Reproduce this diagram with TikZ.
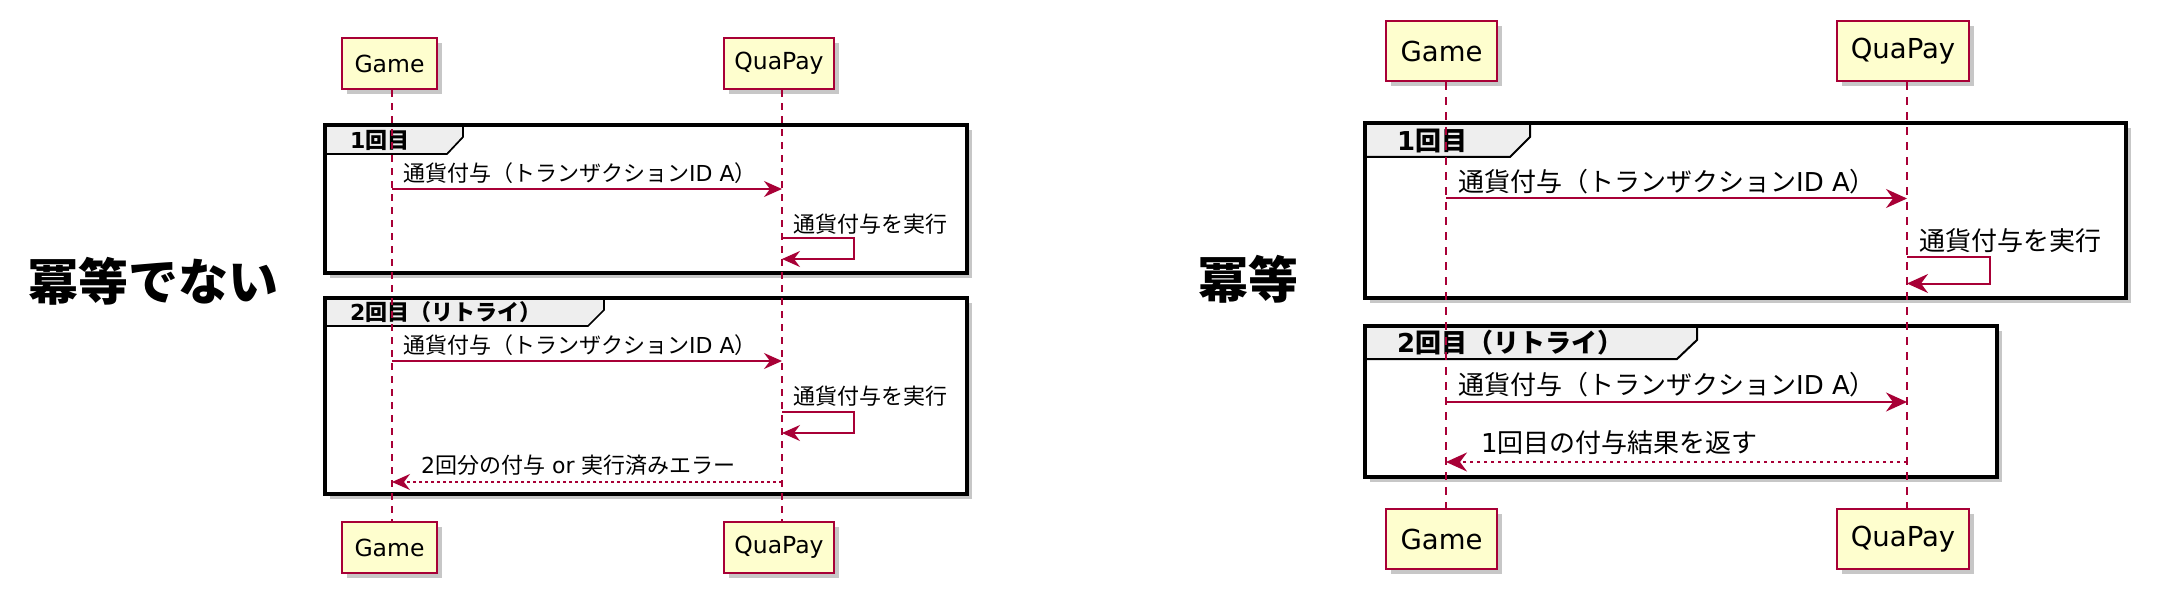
\documentclass[tikz,border=0pt]{standalone}
\usepackage{fontspec}
\setmainfont{Noto Sans CJK JP}
\newfontfamily\dv{DejaVu Sans}
\usetikzlibrary{arrows.meta,shadows}
\definecolor{pu}{HTML}{A80036}
\definecolor{pufill}{HTML}{FEFECE}
\definecolor{tabgray}{HTML}{EEEEEE}
\tikzset{
  shd/.style={drop shadow={shadow xshift=5pt, shadow yshift=-5pt, opacity=0.22, fill=black}},
  partL/.style={draw=pu, fill=pufill, line width=2.4pt, inner sep=0pt, shd,
    minimum height=51pt, font=\fontsize{23.5}{26}\selectfont\dv},
  partR/.style={draw=pu, fill=pufill, line width=2.8pt, inner sep=0pt, shd,
    minimum height=60pt, font=\fontsize{27.5}{30}\selectfont\dv},
  lifeL/.style={draw=pu, line width=1.6pt, dash pattern=on 7pt off 6pt},
  lifeR/.style={draw=pu, line width=1.9pt, dash pattern=on 8pt off 7pt},
  framebg/.style={fill=white, shd},
  frameL/.style={draw=black, line width=3.5pt},
  frameR/.style={draw=black, line width=4pt},
  tabL/.style={draw=black, fill=tabgray, line width=1.7pt},
  tabR/.style={draw=black, fill=tabgray, line width=2pt},
  glabelL/.style={anchor=west, inner sep=0pt, font=\fontsize{22}{24}\selectfont\bfseries},
  glabelR/.style={anchor=west, inner sep=0pt, font=\fontsize{26}{28}\selectfont\bfseries},
  mlabelL/.style={anchor=west, inner sep=0pt, font=\fontsize{22}{24}\selectfont},
  mlabelR/.style={anchor=west, inner sep=0pt, font=\fontsize{26}{28}\selectfont},
  msgL/.style={draw=pu, line width=1.7pt, -{Stealth[length=18pt, width=16pt, inset=6pt]}},
  msgR/.style={draw=pu, line width=2pt, -{Stealth[length=21pt, width=19pt, inset=7pt]}},
  retL/.style={msgL, dash pattern=on 3pt off 3pt},
  retR/.style={msgR, dash pattern=on 3.5pt off 3.5pt},
  big/.style={inner sep=0pt, font=\fontsize{50}{56}\selectfont\bfseries}
}
\begin{document}
\begin{tikzpicture}[x=1pt,y=-1pt]
\useasboundingbox[fill=white] (0,0) rectangle (2164,604);

% ===== big labels =====
\node[big] (labL) at (153,281) {冪等でない};
\node[big] (labR) at (1248,279) {冪等};

% ===== LEFT diagram =====
\fill[framebg] (325,125) rectangle (967,273);
\fill[framebg] (325,298) rectangle (967,494);
\draw[tabL] (325,125) -- (463,125) -- (463,137) -- (447,154) -- (325,154) -- cycle;
\draw[tabL] (325,298) -- (604,298) -- (604,310) -- (588,326) -- (325,326) -- cycle;
\draw[frameL] (325,125) rectangle (967,273);
\draw[frameL] (325,298) rectangle (967,494);
\node[glabelL] (Lg1) at (350,140) {{\dv 1}回目};
\node[glabelL] (Lg2) at (350,312) {{\dv 2}回目（リトライ）};

\node[partL, minimum width=95pt] (LGt) at (389.5,63.5) {Game};
\node[partL, minimum width=110pt] (LQt) at (779,63.5) {QuaPay};
\node[partL, minimum width=95pt] (LGb) at (389.5,547.5) {Game};
\node[partL, minimum width=110pt] (LQb) at (779,547.5) {QuaPay};
\draw[lifeL] (LGt.south -| 392,0) -- (LGb.north -| 392,0);
\draw[lifeL] (LQt.south -| 782,0) -- (LQb.north -| 782,0);

\coordinate (Lm1s) at (392,189); \coordinate (Lm1e) at (782,189);
\draw[msgL] (Lm1s) -- (Lm1e);
\node[mlabelL] (Lm1l) at (403,173) {通貨付与（トランザクション{\dv ID A}）};

\coordinate (Ls1a) at (782,238); \coordinate (Ls1b) at (782,259);
\draw[msgL] (Ls1a) -- (854,238) -- (854,259) -- (Ls1b);
\node[mlabelL] (Ls1l) at (793,224) {通貨付与を実行};

\coordinate (Lm2s) at (392,361); \coordinate (Lm2e) at (782,361);
\draw[msgL] (Lm2s) -- (Lm2e);
\node[mlabelL] (Lm2l) at (403,345) {通貨付与（トランザクション{\dv ID A}）};

\coordinate (Ls2a) at (782,412); \coordinate (Ls2b) at (782,433);
\draw[msgL] (Ls2a) -- (854,412) -- (854,433) -- (Ls2b);
\node[mlabelL] (Ls2l) at (793,396) {通貨付与を実行};

\coordinate (Lr1s) at (782,482); \coordinate (Lr1e) at (392,482);
\draw[retL] (Lr1s) -- (Lr1e);
\node[mlabelL] (Lr1l) at (421,465) {{\dv 2}回分の付与{\dv\ or\ }実行済みエラー};

% ===== RIGHT diagram =====
\fill[framebg] (1365,123) rectangle (2126,298);
\fill[framebg] (1365,326) rectangle (1997,477);
\draw[tabR] (1365,123) -- (1530,123) -- (1530,137) -- (1510,157) -- (1365,157) -- cycle;
\draw[tabR] (1365,326) -- (1697,326) -- (1697,340) -- (1677,359) -- (1365,359) -- cycle;
\draw[frameR] (1365,123) rectangle (2126,298);
\draw[frameR] (1365,326) rectangle (1997,477);
\node[glabelR] (Rg1) at (1397,141) {{\dv 1}回目};
\node[glabelR] (Rg2) at (1397,343) {{\dv 2}回目（リトライ）};

\node[partR, minimum width=111pt] (RGt) at (1441.5,51) {Game};
\node[partR, minimum width=132pt] (RQt) at (1903,51) {QuaPay};
\node[partR, minimum width=111pt] (RGb) at (1441.5,539) {Game};
\node[partR, minimum width=132pt] (RQb) at (1903,539) {QuaPay};
\draw[lifeR] (RGt.south -| 1446,0) -- (RGb.north -| 1446,0);
\draw[lifeR] (RQt.south -| 1907,0) -- (RQb.north -| 1907,0);

\coordinate (Rm1s) at (1446,198.5); \coordinate (Rm1e) at (1907,198.5);
\draw[msgR] (Rm1s) -- (Rm1e);
\node[mlabelR] (Rm1l) at (1458,181.5) {通貨付与（トランザクション{\dv ID A}）};

\coordinate (Rs1a) at (1907,257.5); \coordinate (Rs1b) at (1907,283.5);
\draw[msgR] (Rs1a) -- (1990,257.5) -- (1990,283.5) -- (Rs1b);
\node[mlabelR] (Rs1l) at (1919,241) {通貨付与を実行};

\coordinate (Rm2s) at (1446,402); \coordinate (Rm2e) at (1907,402);
\draw[msgR] (Rm2s) -- (Rm2e);
\node[mlabelR] (Rm2l) at (1458,385) {通貨付与（トランザクション{\dv ID A}）};

\coordinate (Rr1s) at (1907,462); \coordinate (Rr1e) at (1446,462);
\draw[retR] (Rr1s) -- (Rr1e);
\node[mlabelR] (Rr1l) at (1481,443) {{\dv 1}回目の付与結果を返す};
\end{tikzpicture}
\end{document}
